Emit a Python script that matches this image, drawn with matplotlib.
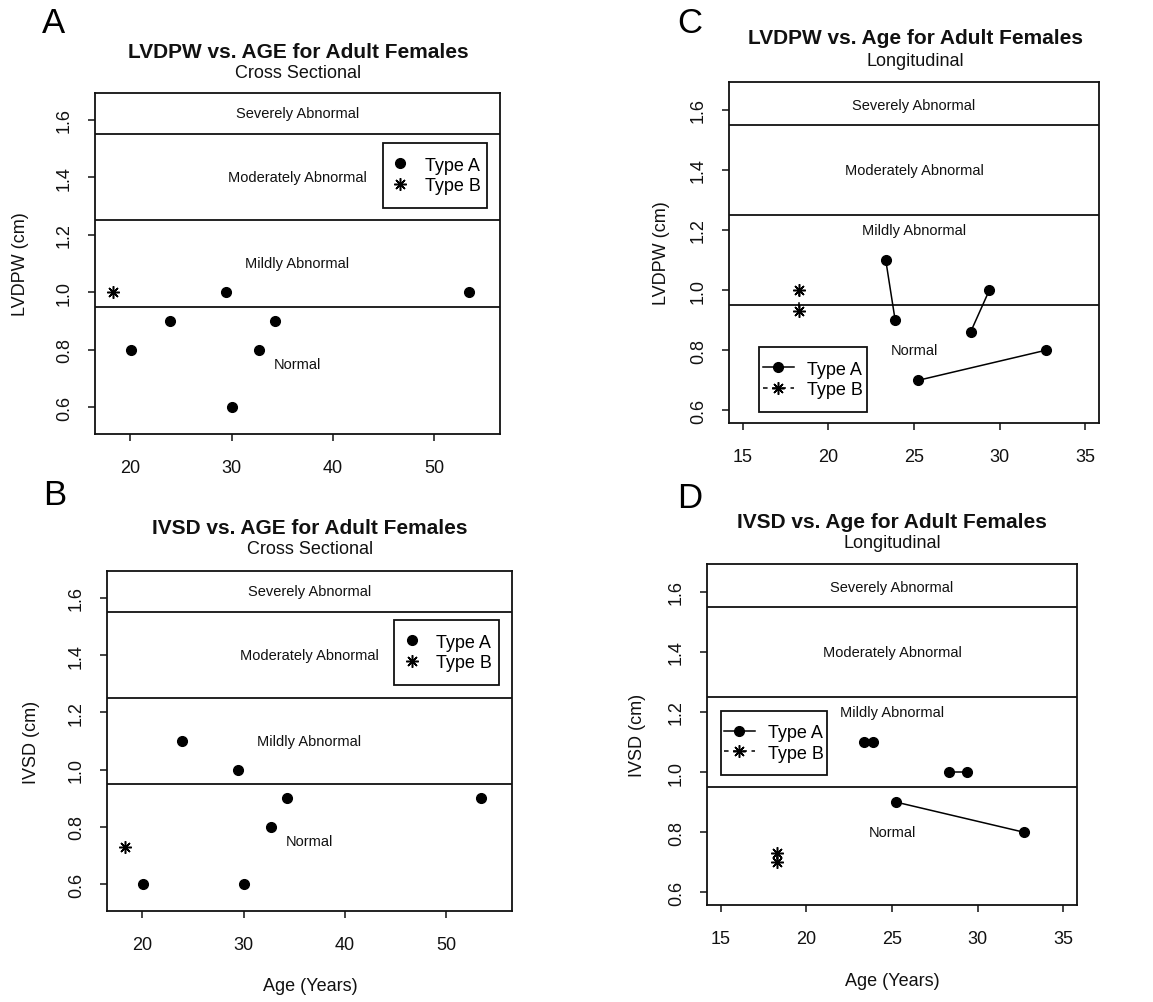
import matplotlib
matplotlib.use('Agg')
import matplotlib.pyplot as plt
from matplotlib.lines import Line2D
from matplotlib.patches import Rectangle

plt.rcParams['font.family'] = ['Liberation Sans', 'DejaVu Sans']

W, H = 1153, 1003

# ---------------- data ----------------
cs_age_A = [20.1, 23.9, 29.4, 30.0, 32.7, 34.3, 53.4]
cs_lvdpw_A = [0.8, 0.9, 1.0, 0.6, 0.8, 0.9, 1.0]
cs_ivsd_A = [0.6, 1.1, 1.0, 0.6, 0.8, 0.9, 0.9]
cs_age_B = [18.3]
cs_lvdpw_B = [1.0]
cs_ivsd_B = [0.73]

long_age_A = [[23.35, 23.9], [28.3, 29.4], [25.25, 32.7]]
long_lvdpw_A = [[1.1, 0.9], [0.86, 1.0], [0.7, 0.8]]
long_ivsd_A = [[1.1, 1.1], [1.0, 1.0], [0.9, 0.8]]
long_age_B = [18.3, 18.3]
long_lvdpw_B = [1.0, 0.93]
long_ivsd_B = [0.73, 0.70]

thresholds = [0.95, 1.25, 1.55]
band_names = ['Normal', 'Mildly Abnormal', 'Moderately Abnormal', 'Severely Abnormal']
band_text_y_cs = [0.75, 1.1, 1.4, 1.625]
band_text_y_long = [0.8, 1.2, 1.4, 1.615]

cs_xticks = [20, 30, 40, 50]
long_xticks = [15, 20, 25, 30, 35]
yticks = [0.6, 0.8, 1.0, 1.2, 1.4, 1.6]
legend_labels = ['Type A', 'Type B']

ASTER = (8, 2, 0)
INK = '#111111'

fig = plt.figure(figsize=(W / 100, H / 100), dpi=100)


def add_ax(box):
    l, t, r, b = box
    return fig.add_axes([l / W, 1 - b / H, (r - l) / W, (b - t) / H])


def style(ax, xlim, ylim, xticks):
    ax.set_xlim(xlim)
    ax.set_ylim(ylim)
    ax.set_xticks(xticks)
    ax.set_xticklabels([str(v) for v in xticks])
    ax.set_yticks(yticks)
    ax.set_yticklabels([f'{v:.1f}' for v in yticks], rotation=90, va='center')
    ax.tick_params(direction='out', length=5, width=1.1, labelsize=13, colors=INK)
    ax.tick_params(axis='x', pad=13)
    ax.tick_params(axis='y', pad=11)
    for s in ax.spines.values():
        s.set_linewidth(1.3)
        s.set_color(INK)
    for th in thresholds:
        ax.axhline(th, color=INK, lw=1.3, zorder=1)


def band_text(ax, ys):
    xm = sum(ax.get_xlim()) / 2
    for name, y in zip(band_names, ys):
        ax.text(xm, y, name, ha='center', va='center', fontsize=10.5, color=INK)


def titles(cx, ty, sy, title, sub):
    fig.text(cx / W, 1 - ty / H, title, ha='center', va='center', fontsize=15,
             fontweight='bold', color=INK)
    fig.text(cx / W, 1 - sy / H, sub, ha='center', va='center', fontsize=13, color=INK)


def legend_box(ax, axbox, lbox, handles, hlen):
    al, at, ar, ab = axbox
    l, t, r, b = lbox
    aw, ah = ar - al, ab - at
    x0 = (l - al) / aw
    y0 = (ab - b) / ah
    ax.add_patch(Rectangle((x0, y0), (r - l) / aw, (b - t) / ah, transform=ax.transAxes,
                           facecolor='white', edgecolor=INK, lw=1.3, zorder=6))
    cx = ((l + r) / 2 - al) / aw
    cy = (ab - (t + b) / 2) / ah
    leg = ax.legend(handles, legend_labels, loc='center', bbox_to_anchor=(cx, cy),
                    frameon=False, fontsize=13, borderaxespad=0, borderpad=0,
                    handlelength=hlen, handletextpad=0.75, labelspacing=0.2)
    leg.set_zorder(7)


h_pts = [Line2D([], [], marker='o', ls='none', color='k', ms=7),
         Line2D([], [], marker=ASTER, ls='none', color='k', ms=9, mew=1.1)]
h_lines = [Line2D([], [], marker='o', ls='-', color='k', ms=7, lw=1.1),
           Line2D([], [], marker=ASTER, ls=(0, (3, 3)), color='k', ms=9, mew=1.1, lw=1.1)]

# ---------------- Panel A ----------------
boxA = (95, 94, 500, 435)
axA = add_ax(boxA)
style(axA, (16.52, 56.48), (0.506, 1.694), cs_xticks)
band_text(axA, band_text_y_cs)
axA.plot(cs_age_A, cs_lvdpw_A, 'o', color='k', ms=7, zorder=3)
axA.plot(cs_age_B, cs_lvdpw_B, ls='none', marker=ASTER, color='k', ms=9, mew=1.1, zorder=3)
legend_box(axA, boxA, (383, 144, 487, 209), h_pts, 1.2)
titles(298, 52, 73, 'LVDPW vs. AGE for Adult Females', 'Cross Sectional')
fig.text(21 / W, 1 - 264 / H, 'LVDPW (cm)', rotation=90, ha='center', va='center',
         fontsize=13, color=INK)
fig.text(42 / W, 1 - 33 / H, 'A', fontsize=25, va='baseline', ha='left')

# ---------------- Panel B ----------------
boxB = (107, 572, 512, 912)
axB = add_ax(boxB)
style(axB, (16.52, 56.48), (0.506, 1.694), cs_xticks)
band_text(axB, band_text_y_cs)
axB.plot(cs_age_A, cs_ivsd_A, 'o', color='k', ms=7, zorder=3)
axB.plot(cs_age_B, cs_ivsd_B, ls='none', marker=ASTER, color='k', ms=9, mew=1.1, zorder=3)
legend_box(axB, boxB, (394, 621, 499, 686), h_pts, 1.2)
titles(310, 528, 550, 'IVSD vs. AGE for Adult Females', 'Cross Sectional')
fig.text(32 / W, 1 - 742 / H, 'IVSD (cm)', rotation=90, ha='center', va='center',
         fontsize=13, color=INK)
fig.text(310 / W, 1 - 987 / H, 'Age (Years)', ha='center', va='center', fontsize=13,
         color=INK)
fig.text(43 / W, 1 - 505 / H, 'B', fontsize=25, va='baseline', ha='left')

# ---------------- Panel C ----------------
boxC = (729, 83, 1099, 424)
axC = add_ax(boxC)
style(axC, (14.2, 35.8), (0.558, 1.692), long_xticks)
band_text(axC, band_text_y_long)
for xs, ys in zip(long_age_A, long_lvdpw_A):
    axC.plot(xs, ys, '-o', color='k', ms=7, lw=1.1, zorder=3)
axC.plot(long_age_B, long_lvdpw_B, ls=(0, (4, 4)), marker=ASTER, color='k', ms=9,
         mew=1.1, lw=1.1, zorder=3)
legend_box(axC, boxC, (759, 348, 867, 413), h_lines, 1.7)
titles(915, 39, 61, 'LVDPW vs. Age for Adult Females', 'Longitudinal')
fig.text(661 / W, 1 - 253 / H, 'LVDPW (cm)', rotation=90, ha='center', va='center',
         fontsize=13, color=INK)
fig.text(677 / W, 1 - 33 / H, 'C', fontsize=25, va='baseline', ha='left')

# ---------------- Panel D ----------------
boxD = (707, 565, 1077, 906)
axD = add_ax(boxD)
style(axD, (14.2, 35.8), (0.558, 1.692), long_xticks)
band_text(axD, band_text_y_long)
for xs, ys in zip(long_age_A, long_ivsd_A):
    axD.plot(xs, ys, '-o', color='k', ms=7, lw=1.1, zorder=3)
axD.plot(long_age_B, long_ivsd_B, ls=(0, (4, 4)), marker=ASTER, color='k', ms=9,
         mew=1.1, lw=1.1, zorder=3)
legend_box(axD, boxD, (721, 712, 827, 776), h_lines, 1.7)
titles(892, 522, 543, 'IVSD vs. Age for Adult Females', 'Longitudinal')
fig.text(638 / W, 1 - 735 / H, 'IVSD (cm)', rotation=90, ha='center', va='center',
         fontsize=13, color=INK)
fig.text(892 / W, 1 - 982 / H, 'Age (Years)', ha='center', va='center', fontsize=13,
         color=INK)
fig.text(677 / W, 1 - 508 / H, 'D', fontsize=25, va='baseline', ha='left')

fig.savefig('out.png', dpi=100, facecolor='white')
